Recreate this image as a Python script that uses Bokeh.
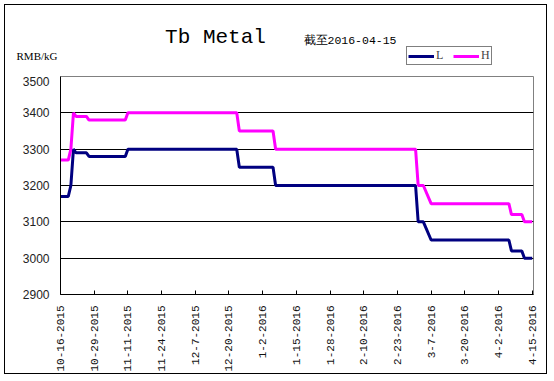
import math
import pandas as pd
from bokeh.plotting import figure
from bokeh.layouts import column
from bokeh.models import (ColumnDataSource, Range1d, FixedTicker, Label, Legend, LegendItem)
from bokeh.embed import file_html
from bokeh.resources import INLINE

# ---- data ----
dates = ["2015-10-16", "2015-10-19", "2015-10-20", "2015-10-21", "2015-10-22",
         "2015-10-26", "2015-10-27", "2015-11-10", "2015-11-11", "2015-12-23",
         "2015-12-24", "2016-01-06", "2016-01-07", "2016-03-01", "2016-03-02",
         "2016-03-04", "2016-03-07", "2016-04-06", "2016-04-07", "2016-04-11",
         "2016-04-12", "2016-04-15"]
low = [3170, 3170, 3200, 3300, 3290, 3290, 3280, 3280, 3300, 3300, 3250,
       3250, 3200, 3200, 3100, 3100, 3050, 3050, 3020, 3020, 3000, 3000]
high = [3270, 3270, 3300, 3400, 3390, 3390, 3380, 3380, 3400, 3400, 3350,
        3350, 3300, 3300, 3200, 3200, 3150, 3150, 3120, 3120, 3100, 3100]
x_tick_labels = ["10-16-2015", "10-29-2015", "11-11-2015", "11-24-2015",
                 "12-7-2015", "12-20-2015", "1-2-2016", "1-15-2016",
                 "1-28-2016", "2-10-2016", "2-23-2016", "3-7-2016",
                 "3-20-2016", "4-2-2016", "4-15-2016"]
y_ticks = [2900, 3000, 3100, 3200, 3300, 3400, 3500]
y_grid = [3000, 3100, 3200, 3300, 3400]
title_text = "Tb Metal"
subtitle_text = "截至2016-04-15"
unit_text = "RMB/kG"
series_names = ["L", "H"]
series_colors = ["#000080", "#ff00ff"]

BORDER = "1px solid black"

# ---- header: title, unit and legend (coordinates = page pixels) ----
header = figure(width=543, height=72, output_backend="svg", toolbar_location=None,
                x_range=Range1d(60, 533), y_range=Range1d(77, 5),
                x_axis_location=None, y_axis_location="left",
                min_border_left=55, min_border_right=15,
                min_border_top=0, min_border_bottom=0,
                background_fill_color="white", border_fill_color="white",
                styles={"border-top": BORDER, "border-left": BORDER,
                        "border-right": BORDER})
header.outline_line_color = None
header.grid.grid_line_color = None

# the unit text is drawn as the header's single y tick label
hy = header.yaxis[0]
hy.ticker = FixedTicker(ticks=[55])
hy.major_label_overrides = {55: unit_text}
hy.axis_line_color = None
hy.major_tick_line_color = None
hy.minor_tick_line_color = None
hy.major_tick_in = 0
hy.major_tick_out = 0
hy.major_label_standoff = 3
hy.major_label_text_font = "Liberation Serif"
hy.major_label_text_font_size = "11px"
hy.major_label_text_color = "black"

header.add_layout(Label(x=215, y=37, text=title_text, text_align="center",
                        text_baseline="middle", text_font="Liberation Mono",
                        text_font_size="21px", text_color="black"))
header.add_layout(Label(x=303, y=40, text=subtitle_text, text_align="left",
                        text_baseline="middle", text_font="Liberation Mono",
                        text_font_size="11.5px", text_color="black"))

# legend-only glyphs (a single NaN point each: nothing drawn in the plot)
leg_items = []
for name, col in zip(series_names, series_colors):
    r = header.line(x=[float("nan")], y=[float("nan")], line_color=col, line_width=3)
    leg_items.append(LegendItem(label=name, renderers=[r]))
legend = Legend(items=leg_items, orientation="horizontal", location=(346, 12),
                padding=1, spacing=9, margin=0,
                glyph_width=26, glyph_height=10,
                label_height=10, label_width=8, label_standoff=2,
                label_text_font="Liberation Serif", label_text_font_size="12px",
                border_line_color="black", border_line_width=1,
                background_fill_color="white", background_fill_alpha=1)
header.add_layout(legend, "center")

# ---- main chart ----
dt = pd.to_datetime(dates)
source = ColumnDataSource(dict(date=dt, L=low, H=high))

tick_dt = pd.to_datetime(x_tick_labels, format="%m-%d-%Y")
tick_ms = [int(t.value // 10**6) for t in tick_dt]
day_ms = 86400000

p = figure(width=543, height=298, output_backend="svg", toolbar_location=None,
           x_axis_type="datetime",
           x_range=Range1d(tick_ms[0], tick_ms[-1] + day_ms // 2),
           y_range=Range1d(2900, 3500),
           min_border_left=55, min_border_right=15,
           min_border_top=0, min_border_bottom=78,
           background_fill_color="white", border_fill_color="white",
           styles={"border-bottom": BORDER, "border-left": BORDER,
                   "border-right": BORDER})

p.outline_line_color = "#808080"
p.outline_line_width = 1

p.line(x="date", y="L", source=source, line_color=series_colors[0], line_width=3)
p.line(x="date", y="H", source=source, line_color=series_colors[1], line_width=3)

xa = p.xaxis[0]
xa.ticker = FixedTicker(ticks=tick_ms)
xa.major_label_overrides = {t: lab for t, lab in zip(tick_ms, x_tick_labels)}
xa.major_label_orientation = math.pi / 2
xa.major_tick_in = 4
xa.major_tick_out = 0
xa.minor_tick_line_color = None
xa.major_label_standoff = 11
xa.major_label_text_font = "Liberation Mono"
xa.major_label_text_font_size = "11px"
xa.major_label_text_color = "#111111"
xa.axis_line_color = "black"
xa.major_tick_line_color = "black"

ya = p.yaxis[0]
ya.ticker = FixedTicker(ticks=y_ticks)
ya.major_tick_in = 0
ya.major_tick_out = 0
ya.minor_tick_line_color = None
ya.major_label_standoff = 11
ya.major_label_text_font = "Liberation Sans"
ya.major_label_text_font_size = "12px"
ya.major_label_text_color = "#222222"
ya.axis_line_color = "black"

p.xgrid.grid_line_color = None
p.ygrid.ticker = FixedTicker(ticks=y_grid)
p.ygrid.grid_line_color = "black"
p.ygrid.grid_line_width = 1

layout = column(header, p, spacing=0,
                styles={"margin-left": "4px", "margin-top": "4px"})

open("out.html", "w").write(file_html(layout, INLINE))
